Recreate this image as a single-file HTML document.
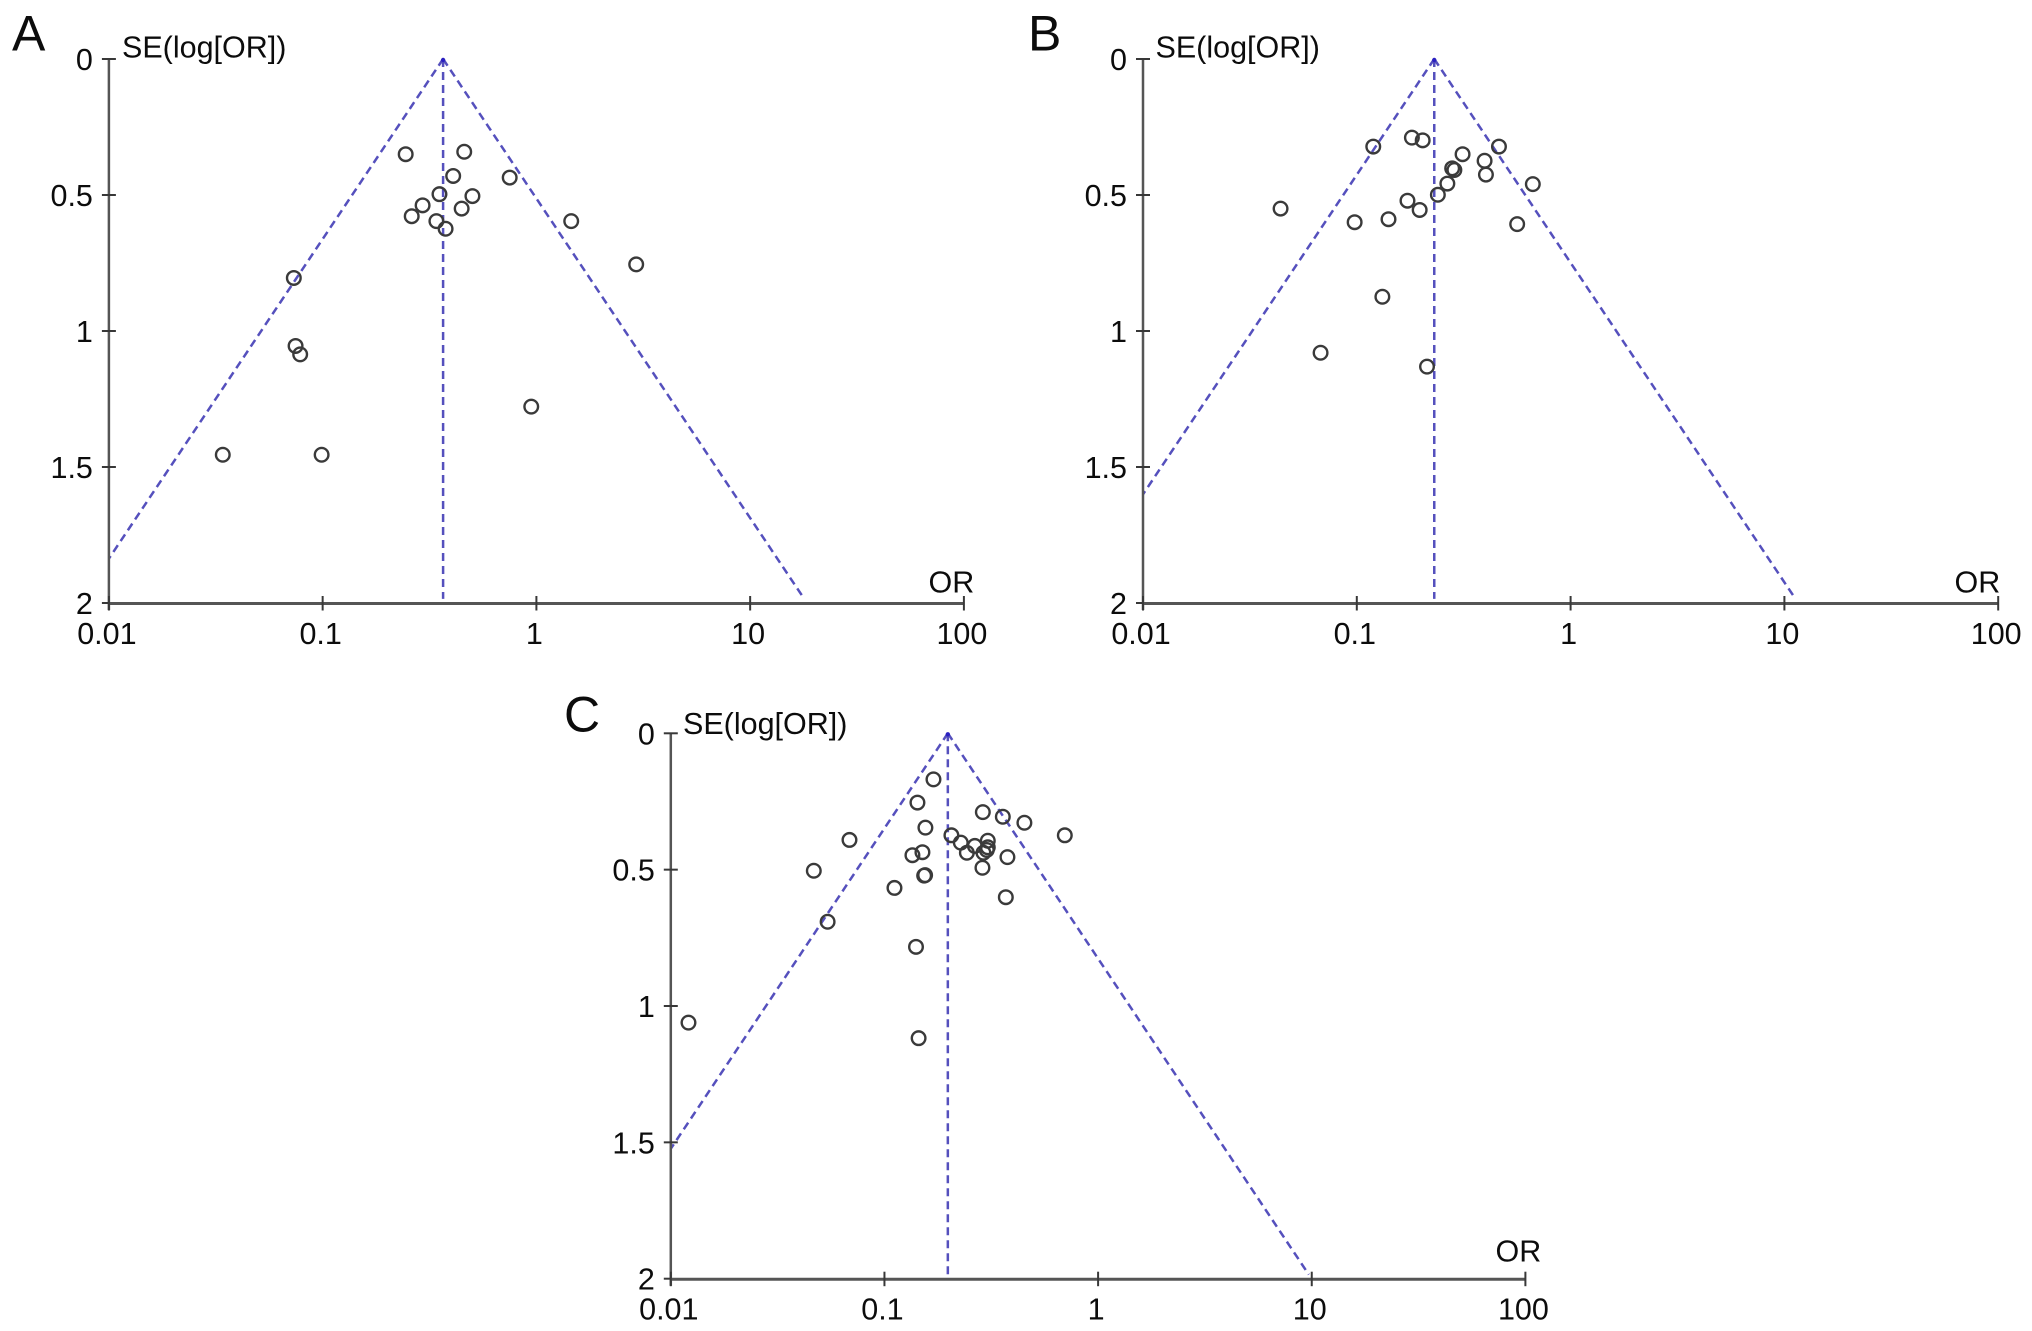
<!DOCTYPE html>
<html lang="en">
<head>
<meta charset="utf-8">
<title>Funnel plots</title>
<style>
html,body{margin:0;padding:0;background:#fff;}
svg{display:block;font-family:"Liberation Sans",sans-serif;fill:#0c0c0c;}
</style>
</head>
<body>
<svg id="figure" width="2032" height="1331" viewBox="0 0 2032 1331" xmlns="http://www.w3.org/2000/svg">
  <rect x="0" y="0" width="2032" height="1331" fill="#fff"/>
  <g id="panel-a">
    <text x="12" y="50.5" font-size="50">A</text>
    <text x="122" y="57.5" font-size="30.5">SE(log[OR])</text>
    <text x="928.5" y="592.5" font-size="30.5">OR</text>
  </g>
  <g id="panel-b">
    <text x="1028" y="50.5" font-size="50">B</text>
    <text x="1155.5" y="57.5" font-size="30.5">SE(log[OR])</text>
    <text x="1954.5" y="592.5" font-size="30.5">OR</text>
  </g>
  <g id="panel-c">
    <text x="564" y="731.5" font-size="50">C</text>
    <text x="683" y="734" font-size="30.5">SE(log[OR])</text>
    <text x="1495.5" y="1261.5" font-size="30.5">OR</text>
  </g>
</svg>
<script>
// Shared axis ticks
const xTickValues = [0.01, 0.1, 1, 10, 100];
const xTickLabels = ['0.01', '0.1', '1', '10', '100'];
const yTickValues = [0, 0.5, 1, 1.5, 2];
const yTickLabels = ['0', '0.5', '1', '1.5', '2'];

// Panel A
const panelAOr = [0.2446, 0.4596, 0.408, 0.75, 0.352, 0.502, 0.2935, 0.447, 0.261, 0.3405, 0.376, 1.455, 2.93, 0.0733, 0.0747, 0.0785, 0.0341, 0.0989, 0.946];
const panelASe = [0.35, 0.341, 0.43, 0.436, 0.497, 0.504, 0.538, 0.55, 0.578, 0.596, 0.624, 0.596, 0.755, 0.805, 1.055, 1.086, 1.455, 1.455, 1.278];
const panelACenter = [0.366];

// Panel B
const panelBOr = [0.1194, 0.181, 0.2033, 0.4623, 0.3124, 0.396, 0.2793, 0.286, 0.4018, 0.6657, 0.2652, 0.2394, 0.1726, 0.1968, 0.044, 0.0977, 0.1407, 0.5625, 0.1317, 0.0677, 0.213];
const panelBSe = [0.322, 0.289, 0.299, 0.322, 0.35, 0.374, 0.402, 0.408, 0.425, 0.46, 0.458, 0.499, 0.521, 0.555, 0.55, 0.6, 0.589, 0.607, 0.874, 1.08, 1.131];
const panelBCenter = [0.2303];

// Panel C
const panelCOr = [0.1696, 0.1427, 0.2887, 0.3581, 0.4519, 0.6985, 0.1555, 0.2058, 0.0686, 0.2277, 0.3046, 0.2649, 0.3046, 0.2431, 0.2906, 0.3014, 0.3764, 0.1506, 0.1352, 0.2875, 0.0467, 0.1534, 0.155, 0.1114, 0.3699, 0.0542, 0.1405, 0.0121, 0.1445];
const panelCSe = [0.169, 0.254, 0.289, 0.306, 0.328, 0.374, 0.346, 0.374, 0.391, 0.401, 0.394, 0.413, 0.418, 0.438, 0.438, 0.428, 0.454, 0.436, 0.447, 0.493, 0.504, 0.522, 0.52, 0.567, 0.601, 0.691, 0.783, 1.061, 1.118];
const panelCCenter = [0.198];

const SVG_NS = 'http://www.w3.org/2000/svg';
const AXIS_COLOR = '#555';
const TICK_COLOR = '#383838';
const FUNNEL_COLOR = '#5550bd';
const FUNNEL_K = 1.96 / Math.LN10;
const FUNNEL_END_SE = 1.985;

function makeEl(parent, tag, attrs) {
  const el = document.createElementNS(SVG_NS, tag);
  for (const key in attrs) {
    el.setAttribute(key, attrs[key]);
  }
  parent.appendChild(el);
  return el;
}

function drawPanel(groupId, prefix, orValues, seValues, center, frame) {
  const group = document.getElementById(groupId);
  const xScale = function (or) {
    return frame.left + (Math.log10(or) + 2) * frame.decade;
  };
  const yScale = function (se) {
    return frame.top + se * frame.unit;
  };
  const xBottom = yScale(2);

  // Funnel limits
  const logCenter = Math.log10(center);
  const leftEndSe = Math.min((logCenter + 2) / FUNNEL_K, FUNNEL_END_SE);
  const leftEndOr = Math.pow(10, logCenter - FUNNEL_K * leftEndSe);
  const rightEndOr = Math.pow(10, logCenter + FUNNEL_K * FUNNEL_END_SE);

  const funnelLeft = makeEl(group, 'line', {x1: xScale(center), y1: yScale(0), x2: xScale(leftEndOr), y2: yScale(leftEndSe), stroke: FUNNEL_COLOR, 'stroke-width': 2.5, 'stroke-dasharray': '8 5'});
  
  

  const funnelRight = makeEl(group, 'line', {x1: xScale(center), y1: yScale(0), x2: xScale(rightEndOr), y2: yScale(FUNNEL_END_SE), stroke: FUNNEL_COLOR, 'stroke-width': 2.5, 'stroke-dasharray': '8 5'});
  
  

  const funnelCenter = makeEl(group, 'line', {x1: xScale(center), y1: yScale(0), x2: xScale(center), y2: yScale(FUNNEL_END_SE), stroke: FUNNEL_COLOR, 'stroke-width': 2.5, 'stroke-dasharray': '8 5'});
  
  

  const apex = makeEl(group, 'circle', {cx: xScale(center), cy: yScale(0) + 1, r: 2.2, fill: '#2b20c0'});
  
  

  // Y axis
  const yAxis = makeEl(group, 'line', {x1: frame.left, y1: yScale(0), x2: frame.left, y2: xBottom + 7, stroke: AXIS_COLOR, 'stroke-width': 2.5});
  
  

  yTickValues.forEach(function (value, i) {
    const tick = makeEl(group, 'line', {x1: frame.left - 7, y1: yScale(value), x2: value === 2 ? frame.left : frame.left + 7, y2: yScale(value), stroke: TICK_COLOR, 'stroke-width': 2});
    
    
    const label = makeEl(group, 'text', {x: frame.left - 16, y: yScale(value) + 11, 'font-size': 30.5, 'text-anchor': 'end'});
    label.textContent = yTickLabels[i];
    
    
  });

  // X axis
  const xAxis = makeEl(group, 'line', {x1: frame.left, y1: xBottom + 0.5, x2: xScale(100), y2: xBottom + 0.5, stroke: AXIS_COLOR, 'stroke-width': 3});
  
  

  xTickValues.forEach(function (value, i) {
    const tick = makeEl(group, 'line', {x1: xScale(value), y1: xBottom - 7, x2: xScale(value), y2: xBottom + 7.5, stroke: TICK_COLOR, 'stroke-width': 2});
    
    
    const label = makeEl(group, 'text', {x: xScale(value) - 2, y: xBottom + 41, 'font-size': 30.5, 'text-anchor': 'middle'});
    label.textContent = xTickLabels[i];
    
    
  });

  // Study points
  orValues.forEach(function (or, i) {
    const point = makeEl(group, 'circle', {cx: xScale(or), cy: yScale(seValues[i]), r: 6.8, fill: 'none', stroke: '#3a3a3a', 'stroke-width': 2.4});
    
    
  });
}

drawPanel('panel-a', 'panel-a', panelAOr, panelASe, panelACenter[0], {left: 108.9, decade: 213.75, top: 59, unit: 272});
drawPanel('panel-b', 'panel-b', panelBOr, panelBSe, panelBCenter[0], {left: 1143, decade: 213.8, top: 59, unit: 272});
drawPanel('panel-c', 'panel-c', panelCOr, panelCSe, panelCCenter[0], {left: 670.8, decade: 213.65, top: 733.3, unit: 272.7});
</script>
</body>
</html>
